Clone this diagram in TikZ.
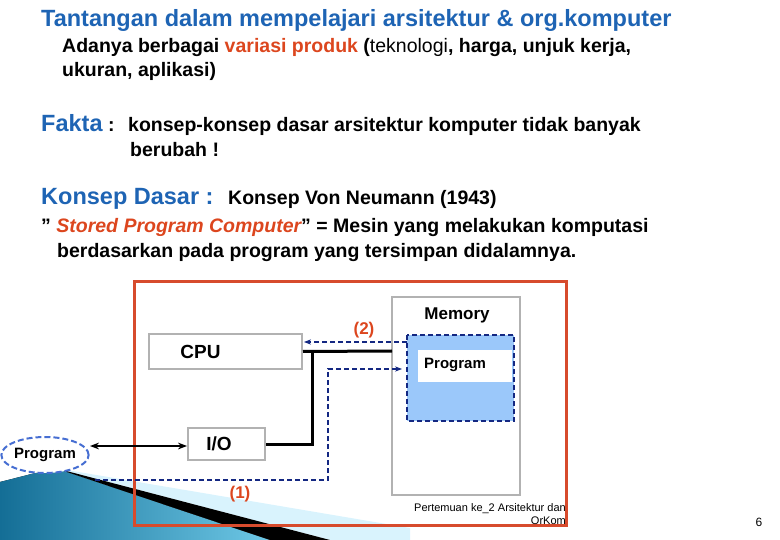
\documentclass[tikz,border=0pt]{standalone}
\usepackage{fontspec}
\setmainfont{Liberation Sans}
\usetikzlibrary{arrows.meta,shapes.geometric}
\definecolor{tblue}{RGB}{30,100,180}
\definecolor{tred}{RGB}{220,70,30}
\definecolor{frame}{RGB}{215,75,45}
\definecolor{dblue}{RGB}{20,40,130}
\definecolor{lblue}{RGB}{155,200,250}
\definecolor{ell}{RGB}{70,110,210}
\definecolor{teal1}{RGB}{20,110,150}
\definecolor{teal2}{RGB}{110,200,230}
\begin{document}
\begin{tikzpicture}[x=1pt,y=-1pt,
  txt/.style={anchor=base west,inner sep=0,font=\bfseries},
  big/.style={font=\bfseries\fontsize{23.5}{26}\selectfont},
  body/.style={font=\bfseries\fontsize{19.5}{22}\selectfont},
  gbox/.style={draw=gray!60,line width=2pt,fill=white},
  bus/.style={line width=3pt,black},
  dsh/.style={dblue,dash pattern=on 5pt off 3pt,line width=1.8pt,-{Stealth[length=7pt]}}]
\useasboundingbox (0,0) rectangle (780,540);
% decoration
\fill[left color=teal1,right color=teal2] (0,482) -- (55,468) -- (270,540) -- (0,540) -- cycle;
\fill[cyan!15] (55,468) -- (410,528) -- (410,540) -- (330,540) -- cycle;
\fill[black] (55,468) -- (330,540) -- (270,540) -- cycle;
% text
\node[txt,big,text=tblue] (t1) at (41,27) {Tantangan dalam mempelajari arsitektur \& org.komputer};
\node[txt,body] (t2) at (62,53) {Adanya berbagai \textcolor{tred}{variasi produk} ({\mdseries teknologi}, harga, unjuk kerja,};
\node[txt,body] (t3) at (62,77) {ukuran, aplikasi)};
\node[txt,big,text=tblue] (f1) at (41,132) {Fakta};
\node[txt,body] (f0) at (108,132) {:};
\node[txt,body] (f2) at (128,132) {konsep-konsep dasar arsitektur komputer tidak banyak};
\node[txt,body] (f3) at (130,157) {berubah !};
\node[txt,big,text=tblue] (k1) at (41,205) {Konsep Dasar :};
\node[txt,body] (k2) at (228,205) {Konsep Von Neumann (1943)};
\node[txt,body] (k3) at (41,233) {” \textcolor{tred}{\itshape Stored Program Computer}” = Mesin yang melakukan komputasi};
\node[txt,body] (k4) at (57,258) {berdasarkan pada program yang tersimpan didalamnya.};
% diagram
\draw[frame,line width=3pt] (134,282) rectangle (566,525);
\draw[gbox] (392,297) rectangle (520,495);
\node[font=\bfseries\fontsize{17}{19}\selectfont] (memt) at (457,315) {Memory};
\fill[lblue] (407,335) rectangle (514,421);
\draw[dblue,dash pattern=on 5pt off 3pt,line width=1.8pt] (407,335) rectangle (514,421);
\fill[white] (418,350) rectangle (512,382);
\node[font=\bfseries\fontsize{15}{17}\selectfont] (prog) at (455,365) {Program};
\node[gbox,minimum width=153pt,minimum height=35pt,font=\bfseries\fontsize{19}{21}\selectfont,inner sep=0] (cpu) at (225.5,351.5) {\hspace*{-50pt}CPU};
\node[gbox,minimum width=77pt,minimum height=32pt,font=\bfseries\fontsize{19}{21}\selectfont,inner sep=0] (io) at (226.5,444) {\hspace*{-15pt}I/O};
\node[draw=ell,dash pattern=on 6pt off 3pt,line width=2pt,ellipse,fill=white,minimum width=86pt,minimum height=36pt,inner sep=0,font=\bfseries\fontsize{15}{17}\selectfont] (pe) at (45,455) {Program};
\coordinate (j1) at (312,351);
\coordinate (j2) at (312,444);
\draw[bus] (cpu.east) -- (392,351);
\draw[bus] (j1) -- (j2) -- (io.east);
\draw[line width=2pt,{Stealth[length=9pt]}-{Stealth[length=9pt]}] (90,446) -- (io.west |- 0,446);
\draw[dsh] (407,342) -- (304,342);
\coordinate (d1) at (95,480);
\coordinate (d2) at (328,480);
\coordinate (d3) at (328,369);
\draw[dsh] (d1) -- (d2) -- (d3) -- (402,369);
\node[text=tred,font=\bfseries\fontsize{17}{19}\selectfont] (l2) at (364,330) {(2)};
\node[text=tred,font=\bfseries\fontsize{17}{19}\selectfont] (l1) at (240,494) {(1)};
\node[font=\fontsize{11}{13}\selectfont,align=right,anchor=north east,inner sep=0] (foot) at (566,503) {Pertemuan ke\_2 Arsitektur dan\\OrKom};
\node[font=\fontsize{12}{13}\selectfont] (pg) at (759,522) {6};
\end{tikzpicture}
\end{document}
